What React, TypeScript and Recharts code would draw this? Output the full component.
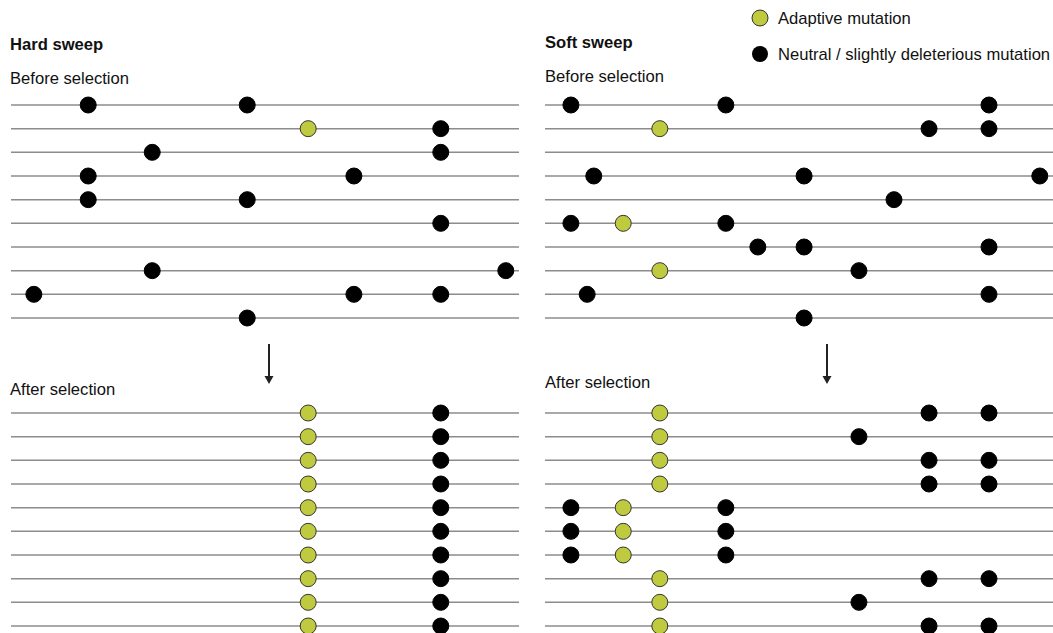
import { ScatterChart, Scatter, XAxis, YAxis, ReferenceLine } from 'recharts'

// positions along the haplotype, 0-100, one list per haplotype row
const ROWS = [0, 1, 2, 3, 4, 5, 6, 7, 8, 9]

const hardBeforeNeutral = [
  [15.2, 46.5],
  [84.6],
  [27.8, 84.6],
  [15.2, 67.5],
  [15.2, 46.5],
  [84.6],
  [],
  [27.8, 97.4],
  [4.5, 67.5, 84.6],
  [46.5],
]
const hardBeforeAdaptive = [[], [58.5], [], [], [], [], [], [], [], []]

const hardAfterNeutral = [[84.6], [84.6], [84.6], [84.6], [84.6], [84.6], [84.6], [84.6], [84.6], [84.6]]
const hardAfterAdaptive = [[58.5], [58.5], [58.5], [58.5], [58.5], [58.5], [58.5], [58.5], [58.5], [58.5]]

const softBeforeNeutral = [
  [5.1, 35.6, 87.4],
  [75.6, 87.4],
  [],
  [9.6, 51.0, 97.4],
  [68.7],
  [5.1, 35.6],
  [41.9, 51.0, 87.4],
  [61.8],
  [8.3, 87.4],
  [51.0],
]
const softBeforeAdaptive = [[], [22.6], [], [], [], [15.4], [], [22.6], [], []]

const softAfterNeutral = [
  [75.6, 87.4],
  [61.8],
  [75.6, 87.4],
  [75.6, 87.4],
  [5.1, 35.6],
  [5.1, 35.6],
  [5.1, 35.6],
  [75.6, 87.4],
  [61.8],
  [75.6, 87.4],
]
const softAfterAdaptive = [[22.6], [22.6], [22.6], [22.6], [15.4], [15.4], [15.4], [22.6], [22.6], [22.6]]

const GREEN = '#bfca3f'
const LINE = '#8c8c8c'
const FONT = '"Liberation Sans", Arial, Helvetica, sans-serif'

const toPoints = (rows: number[][]) =>
  rows.flatMap((positions, row) => positions.map((pos) => ({ pos, row })))

const Dot = (fill: string, stroke: string) => (props: any) =>
  <circle cx={props.cx} cy={props.cy} r={8} fill={fill} stroke={stroke} strokeWidth={1} />

function Haplotypes({ neutral, adaptive, left, top }: { neutral: number[][]; adaptive: number[][]; left: number; top: number }) {
  return (
    <div style={{ position: 'absolute', left, top }}>
      <ScatterChart width={528} height={237} margin={{ top: 12, right: 10, bottom: 12, left: 10 }}>
        <XAxis type="number" dataKey="pos" domain={[0, 100]} hide />
        <YAxis type="number" dataKey="row" domain={[0, 9]} reversed hide />
        {ROWS.map((r) => (
          <ReferenceLine key={r} y={r} stroke={LINE} strokeWidth={1.5} />
        ))}
        <Scatter data={toPoints(neutral)} shape={Dot('#000', '#000')} isAnimationActive={false} />
        <Scatter data={toPoints(adaptive)} shape={Dot(GREEN, '#333')} isAnimationActive={false} />
      </ScatterChart>
    </div>
  )
}

function Label({ text, x, y, bold }: { text: string; x: number; y: number; bold?: boolean }) {
  return (
    <div
      style={{
        position: 'absolute',
        left: x,
        top: y - 10,
        lineHeight: '20px',
        fontSize: 16.6,
        fontWeight: bold ? 700 : 400,
        color: '#111',
        whiteSpace: 'nowrap',
      }}
    >
      {text}
    </div>
  )
}

function Arrow({ x }: { x: number }) {
  return (
    <svg style={{ position: 'absolute', left: x - 6, top: 340 }} width={12} height={48}>
      <line x1={6} y1={4} x2={6} y2={37} stroke="#222" strokeWidth={2} />
      <polygon points="1.5,36 10.5,36 6,44" fill="#222" />
    </svg>
  )
}

export default function App() {
  return (
    <div
      style={{
        position: 'absolute',
        left: 0,
        top: 0,
        width: 1053,
        height: 633,
        overflow: 'hidden',
        background: '#fff',
        fontFamily: FONT,
      }}
    >
      <Label text="Hard sweep" x={10} y={45} bold />
      <Label text="Before selection" x={10} y={79} />
      <Haplotypes neutral={hardBeforeNeutral} adaptive={hardBeforeAdaptive} left={1} top={93} />
      <Arrow x={269} />
      <Label text="After selection" x={10} y={390} />
      <Haplotypes neutral={hardAfterNeutral} adaptive={hardAfterAdaptive} left={1} top={401} />

      <Label text="Soft sweep" x={545} y={43} bold />
      <Label text="Before selection" x={545} y={77} />
      <Haplotypes neutral={softBeforeNeutral} adaptive={softBeforeAdaptive} left={535} top={93} />
      <Arrow x={827} />
      <Label text="After selection" x={545} y={383} />
      <Haplotypes neutral={softAfterNeutral} adaptive={softAfterAdaptive} left={535} top={401} />

      {/* legend */}
      <svg style={{ position: 'absolute', left: 750, top: 8 }} width={20} height={56}>
        <circle cx={10} cy={10} r={8} fill={GREEN} stroke="#333" strokeWidth={1} />
        <circle cx={10} cy={46} r={8} fill="#000" />
      </svg>
      <Label text="Adaptive mutation" x={778} y={19} />
      <Label text="Neutral / slightly deleterious mutation" x={778} y={55} />
    </div>
  )
}
